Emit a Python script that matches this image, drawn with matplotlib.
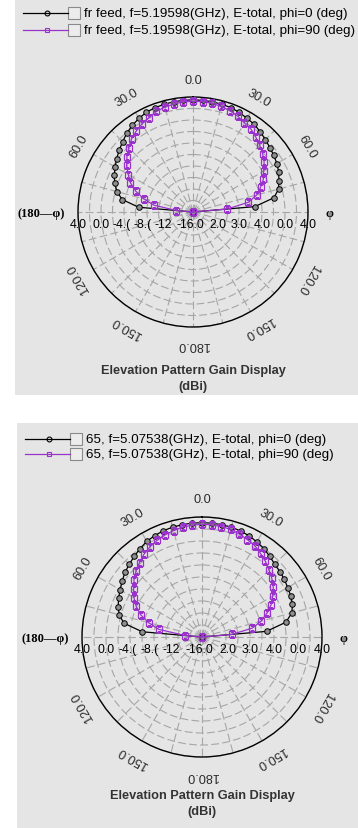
import numpy as np
import matplotlib.pyplot as plt
from matplotlib.patches import Rectangle
from matplotlib.lines import Line2D

W, H = 358, 829
BG = "#e5e5e5"
PURPLE = "#9933cc"
plt.rcParams["font.family"] = ["Liberation Sans", "DejaVu Sans"]

# elevation angle theta (deg), sampled every 5 deg
theta_deg = np.arange(-90, 91, 5)

# gain in dBi (center of the plot = -16 dBi)
fr_phi0 = [-16.0, -6.5, -3.5, -2.3, -1.5, -0.9, -0.35, 0.2, 0.75, 1.3, 1.9, 2.4, 2.8,
           3.15, 3.3, 3.4, 3.45, 3.5, 3.5, 3.5, 3.45, 3.4, 3.3, 3.1, 2.8, 2.6, 2.2,
           1.8, 1.45, 1.15, 0.85, 0.45, -0.1, -0.6, -1.7, -5.2, -16.0]
fr_phi90 = [-16.0, -13.1, -9.1, -7.1, -5.4, -4.0, -3.0, -1.9, -1.0, -0.2, 0.6, 1.2, 1.7,
            2.1, 2.6, 2.9, 3.05, 3.25, 3.25, 3.27, 3.2, 3.0, 2.75, 2.4, 1.9, 1.6, 1.0,
            0.4, -0.2, -0.9, -1.8, -2.5, -3.5, -4.5, -6.2, -10.0, -16.0]
p65_phi0 = [-16.0, -6.0, -2.8, -1.7, -1.15, -0.65, -0.25, 0.25, 0.75, 1.15, 1.55, 2.0, 2.4,
            2.65, 2.85, 2.95, 3.0, 3.05, 3.05, 3.05, 3.0, 2.95, 2.8, 2.6, 2.3, 2.0, 1.55,
            1.15, 0.95, 0.75, 0.5, 0.3, 0.05, -0.5, -1.8, -5.2, -16.0]
p65_phi90 = [-16.0, -13.2, -8.7, -6.8, -5.1, -3.9, -2.9, -2.1, -1.2, -0.45, 0.2, 0.85, 1.35,
             1.75, 2.1, 2.35, 2.6, 2.7, 2.8, 2.75, 2.7, 2.55, 2.25, 1.9, 1.6, 1.0, 0.45,
             -0.2, -0.8, -1.5, -2.4, -3.3, -4.5, -5.8, -7.5, -11.0, -16.0]

legend_fr = ["fr feed, f=5.19598(GHz), E-total, phi=0 (deg)",
             "fr feed, f=5.19598(GHz), E-total, phi=90 (deg)"]
legend_65 = ["65, f=5.07538(GHz), E-total, phi=0 (deg)",
             "65, f=5.07538(GHz), E-total, phi=90 (deg)"]

angle_ticks = [0, 30, 60, 120, 150, 180, -30, -60, -120, -150]
angle_labels = ["0.0", "30.0", "60.0", "120.0", "150.0", "180.0",
                "30.0", "60.0", "120.0", "150.0"]
# radial scale labels as they show along the horizon (they run into each other)
r_left = [4, 0, -3.65, -7.3, -10.8]
r_left_labels = ["4.0", "0.0", "-4.(", "-8.(", "-12"]
r_right = [-11.65, -8, -4, 0, 4]
r_right_labels = ["2.0", "3.0", "4.0", "0.0", "4.0"]


def fx(x):
    return x / W


def fy(y):
    return 1 - y / H


fig = plt.figure(figsize=(W / 100, H / 100), dpi=100)
fig.patch.set_facecolor("white")


def panel(top, bottom, left, cx, cy, rad, phi0, phi90, legend, leg_y):
    fig.add_artist(Rectangle((fx(left), fy(bottom)), fx(W - left), (bottom - top) / H,
                             transform=fig.transFigure, fc=BG, ec="none", zorder=0))

    # legend rows: line sample, checkbox, text
    for i, (txt, col, mk) in enumerate(zip(legend, ["black", PURPLE], ["o", "s"])):
        y = leg_y[i]
        fig.add_artist(Line2D([fx(left + 8), fx(left + 53)], [fy(y), fy(y)],
                              transform=fig.transFigure, color=col, lw=0.9))
        fig.add_artist(Line2D([fx(left + 32)], [fy(y)], transform=fig.transFigure,
                              marker=mk, ms=3.5, mfc="none", mec=col, mew=0.8))
        fig.add_artist(Rectangle((fx(left + 53), fy(y + 6)), 12 / W, 12 / H,
                                 transform=fig.transFigure, fc="#ececec",
                                 ec="#8a8a8a", lw=0.8))
        fig.text(fx(left + 69), fy(y), txt, fontsize=9.6, va="center", ha="left",
                 color="black")

    ax = fig.add_axes([fx(cx - rad), fy(cy + rad), 2 * rad / W, 2 * rad / H],
                      projection="polar")
    ax.set_facecolor("none")
    ax.set_theta_zero_location("N")
    ax.set_theta_direction(-1)
    ax.set_rlim(-16, 4)
    ax.set_rticks(np.arange(-14, 5, 2))
    ax.set_yticklabels([])
    ax.set_thetagrids(np.arange(0, 360, 15), labels=[])
    ax.grid(True, color="#a6a6a6", lw=0.8, ls=(0, (7, 3)))
    ax.spines["polar"].set_color("black")
    ax.spines["polar"].set_linewidth(1.0)

    th = np.radians(theta_deg)
    ax.plot(th, phi0, color="black", lw=0.9, marker="o", ms=4, mfc="#8e8e8e",
            mec="black", mew=0.7, zorder=3)
    ax.plot(th, phi90, color=PURPLE, lw=0.9, marker="s", ms=4.5, mfc="none",
            mec=PURPLE, mew=0.9, zorder=4)

    for t, lab in zip(angle_ticks, angle_labels):
        ax.text(np.radians(t), 7.0, lab, rotation=-t, rotation_mode="anchor",
                ha="center", va="center", fontsize=9.2, color="#2a2a2a")

    for v, lab in zip(r_left, r_left_labels):
        ax.annotate(lab, xy=(np.radians(-90), v), xytext=(0, -12),
                    textcoords="offset pixels", ha="center", va="center",
                    fontsize=8.8, color="black")
    for v, lab in zip(r_right, r_right_labels):
        ax.annotate(lab, xy=(np.radians(90), v), xytext=(0, -12),
                    textcoords="offset pixels", ha="center", va="center",
                    fontsize=8.8, color="black")
    ax.annotate("-16.0", xy=(0, -16), xytext=(-3, -12), textcoords="offset pixels",
                ha="center", va="center", fontsize=8.8, color="black")

    ax.annotate("(180\u2014\u03c6)", xy=(np.radians(-90), 4), xytext=(-13, -1),
                textcoords="offset pixels", ha="right", va="center", fontsize=9,
                fontweight="bold", family=["Liberation Serif", "DejaVu Serif"])
    ax.annotate("\u03c6", xy=(np.radians(90), 4), xytext=(18, -1),
                textcoords="offset pixels", ha="left", va="center", fontsize=9,
                fontweight="bold", family=["Liberation Serif", "DejaVu Serif"])

    fig.text(fx(cx), fy(cy + 158), "Elevation Pattern Gain Display", fontsize=9.2,
             fontweight="bold", ha="center", va="center", color="#333333")
    fig.text(fx(cx), fy(cy + 174), "(dBi)", fontsize=9.2, fontweight="bold",
             ha="center", va="center", color="#333333")


panel(0, 396, 15, 193, 213, 115, fr_phi0, fr_phi90, legend_fr, [14, 31])
panel(424, 829, 17, 202, 638, 120, p65_phi0, p65_phi90, legend_65, [440, 455])

fig.savefig("out.png", dpi=100, facecolor=fig.get_facecolor())
